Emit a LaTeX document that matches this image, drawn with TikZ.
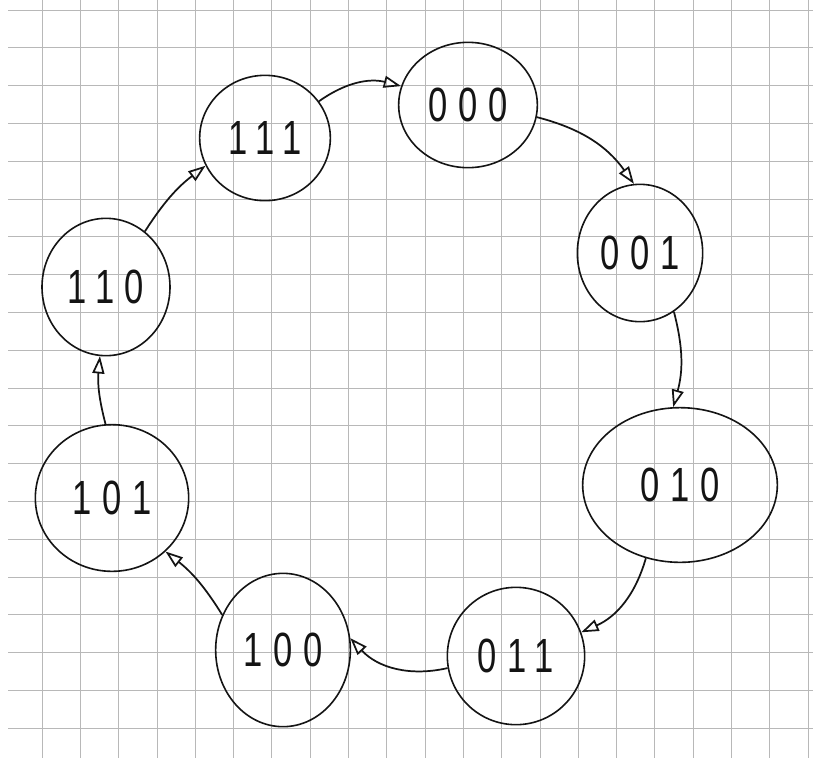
\documentclass[tikz,border=0pt]{standalone}
\usepackage{fontspec}
\newfontfamily\handfont[LetterSpace=22, FakeStretch=0.72]{Liberation Sans}
\usepackage{tikz}
\usetikzlibrary{arrows.meta, shapes.geometric}
\definecolor{Ink}{gray}{0.08}
\definecolor{GridGray}{gray}{0.72}
\tikzset{%
  state/.style={%
    ellipse,%
    draw=Ink,%
    line width=1.2pt,%
    inner sep=0pt,%
    font={\handfont\fontsize{36}{40}\selectfont},%
    text=Ink,%
  },
  smooth_path/.style={%
    color=Ink,%
    line width=1.3pt,%
    line join=round,%
  },
  arrow/.style={-{Triangle[open, length=13pt, width=9pt, line width=1.3pt]}},
  grid_line/.style={%
    color=GridGray,%
    line width=0.55pt,%
  },
}
\begin{document}
\begin{tikzpicture}[x=0.75pt, y=-0.75pt]

    \useasboundingbox [fill=white] (0,0) rectangle (813,758);

    % squared paper
    \foreach \k in {0,...,20}
      \draw [grid_line] (42+38.3*\k, 0) -- (42+38.3*\k, 758);
    \foreach \k in {0,...,19}
      \draw [grid_line] (8, 10+37.8*\k) -- (813, 10+37.8*\k);

    \node [state, minimum width=104pt, minimum height=94pt] (S000) at (468,105) {000};
    \node [state, minimum width=98pt, minimum height=94pt] (S111) at (265,138) {111};
    \node [state, minimum width=96pt, minimum height=103pt] (S110) at (106,287) {110};
    \node [state, minimum width=115pt, minimum height=110pt] (S101) at (112,498) {101};
    \node [state, minimum width=101pt, minimum height=115pt] (S100) at (283,650) {100};
    \node [state, minimum width=103pt, minimum height=103pt] (S011) at (516,656) {011};
    \node [state, minimum width=146pt, minimum height=116pt] (S010) at (680,485) {010};
    \node [state, minimum width=94pt, minimum height=103pt] (S001) at (640,253) {001};

    \draw [arrow, smooth_path]
      (S111) to [bend left=25] (S000);
    \draw [arrow, smooth_path]
      (S000.-10) to [bend left=20] (S001.95);
    \draw [arrow, smooth_path]
      (S001.-60) to [bend left=15] (S010.95);
    \draw [arrow, smooth_path]
      (S010.-115) to [bend left=25] (S011.20);
    \draw [arrow, smooth_path]
      (S011.190) to [bend left=30] (S100.10);
    \draw [arrow, smooth_path]
      (S100.150) to [bend right=10] (S101.-45);
    \draw [arrow, smooth_path]
      (S101.95) to [bend left=10] (S110.-95);
    \draw [arrow, smooth_path]
      (S110.55) to [bend left=10] (S111.205);

  \end{tikzpicture}
\end{document}
